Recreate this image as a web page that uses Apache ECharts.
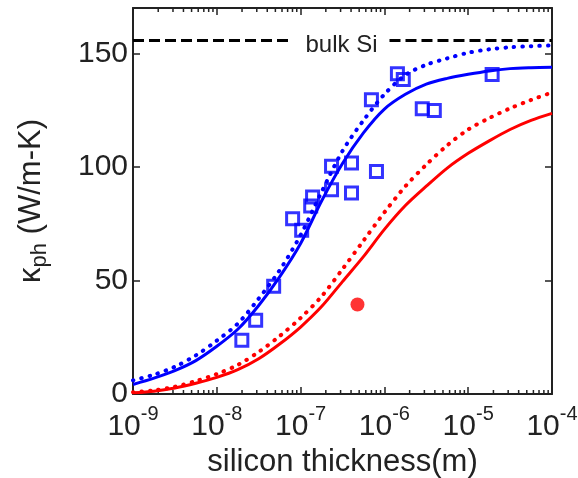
<!DOCTYPE html>
<html><head><meta charset="utf-8">
<script src="https://cdn.jsdelivr.net/npm/echarts@6/dist/echarts.min.js"></script>
<style>html,body{margin:0;padding:0;background:#fff}#c{width:578px;height:478px}</style>
</head><body><div id="c"></div>
<script>
// ---- data (thickness in metres, kappa in W/m-K) ----
const thickness  = [1e-9, 1.78e-9, 3.16e-9, 5.62e-9, 1e-8, 1.78e-8, 3.16e-8, 5.62e-8, 1e-7, 1.78e-7, 3.16e-7,
                    5.62e-7, 1e-6, 1.78e-6, 3.16e-6, 5.62e-6, 1e-5, 1.78e-5, 3.16e-5, 5.62e-5, 1e-4];
const blueSolid  = [4.2, 7.0, 10.3, 14.7, 21, 28.5, 39, 51.6, 66.3, 85, 101.5,
                    115, 125.5, 132, 136.5, 139, 140.8, 142.3, 143.3, 143.7, 143.9];
const blueDotted = [6, 8.5, 12, 17, 23.5, 31, 42, 54.5, 70, 89, 107,
                    120.5, 132, 140.5, 145, 147.8, 150.3, 151.8, 152.7, 153.2, 153.5];
const redSolid   = [0.5, 1.2, 2.6, 4.7, 7.3, 10.7, 15.5, 22, 29.5, 38.5, 49.5,
                    60.5, 72.5, 83, 91.5, 99.5, 106, 111.5, 116.5, 120.5, 123.6];
const redDotted  = [0.8, 1.6, 3.2, 5.7, 8.8, 12.8, 18.5, 25.5, 33.5, 43, 55,
                    67.5, 80, 91.5, 101, 109.5, 116.5, 121.5, 125.8, 129.5, 132.8];
const measX = [1.99e-8, 2.91e-8, 4.77e-8, 8.03e-8, 1.03e-7, 1.39e-7, 1.32e-7, 2.34e-7, 2.34e-7, 4.05e-7, 4.05e-7, 8.04e-7, 7.0e-7, 1.43e-6, 1.68e-6, 2.83e-6, 3.94e-6, 1.93e-5];
const measY = [23.7, 32.5, 47.5, 77.2, 72.1, 86.8, 82.8, 90, 100.3, 101.7, 88.5, 98, 129.6, 141, 138.5, 125.6, 124.9, 140.7];
const redPointX = [4.77e-7];
const redPointY = [39.4];
const bulkSiValue = 155.7;
const bulkSiGapStart = 8.0e-8, bulkSiGapEnd = 1.15e-6;
const bulkSiLabelX = 3.08e-7;
const bulkSiText = 'bulk Si';
const xMin = 1e-9, xMax = 1e-4;
const yMin = 0, yMax = 170, yStep = 50;

const FONT = '"Liberation Sans", Arial, Helvetica, sans-serif';
const INK = '#222';
const BLUE = '#0000ff', RED = '#ff0000';

const minorTicks = [];
for (let d = -9; d < -4; d++) for (let k = 2; k <= 9; k++) minorTicks.push([k * Math.pow(10, d), 0]);

const zip = (xs, ys) => xs.map((x, i) => [x, ys[i]]);

const chart = echarts.init(document.getElementById('c'), null, {renderer: 'canvas'});

const xLabelFmt = v => {
  const e = Math.round(Math.log10(v));
  return '{b|10}{s|' + e + '}';
};

const axisLineStyle = {show: true, onZero: false, lineStyle: {color: INK, width: 2}};
const tickStyle = {show: true, inside: true, length: 7, lineStyle: {color: INK, width: 1.5}};
const dotted = color => ({color: color, width: 4, type: [0.5, 8], cap: 'round'});
const curve = {type: 'line', smooth: 0.3, showSymbol: false, silent: true, z: 4};

chart.setOption({
  animation: false,
  backgroundColor: '#fff',
  grid: {left: 133, right: 26, top: 8, bottom: 84, containLabel: false, outerBoundsMode: 'none'},
  xAxis: [{
    type: 'log', logBase: 10, min: xMin, max: xMax, position: 'bottom',
    axisLine: axisLineStyle, axisTick: tickStyle, splitLine: {show: false}, minorTick: {show: false},
    axisLabel: {
      formatter: xLabelFmt, margin: 10, color: INK, fontFamily: FONT,
      rich: {
        b: {fontSize: 30, lineHeight: 46, color: INK, fontFamily: FONT},
        s: {fontSize: 20, lineHeight: 20, verticalAlign: 'top', color: INK, fontFamily: FONT}
      }
    },
    name: 'silicon thickness(m)', nameLocation: 'middle', nameGap: 50,
    nameTextStyle: {fontSize: 31, color: INK, fontFamily: FONT}
  }, {
    type: 'log', logBase: 10, min: xMin, max: xMax, position: 'top',
    axisLine: axisLineStyle, axisTick: tickStyle, splitLine: {show: false},
    axisLabel: {show: false}
  }],
  yAxis: [{
    type: 'value', min: yMin, max: yMax, interval: yStep, position: 'left',
    axisLine: axisLineStyle, axisTick: tickStyle, splitLine: {show: false},
    axisLabel: {fontSize: 30, color: INK, fontFamily: FONT, margin: 5, showMaxLabel: false},
    name: '{k|κ}{sub|ph}{t| (W/m-K)}', nameLocation: 'middle', nameRotate: 90, nameGap: 82,
    nameTextStyle: {
      color: INK, fontFamily: FONT,
      rich: {
        k: {fontSize: 31, lineHeight: 40, color: INK, fontFamily: FONT},
        sub: {fontSize: 22, lineHeight: 22, verticalAlign: 'bottom', color: INK, fontFamily: FONT},
        t: {fontSize: 31, lineHeight: 40, color: INK, fontFamily: FONT}
      }
    }
  }, {
    type: 'value', min: yMin, max: yMax, interval: yStep, position: 'right',
    axisLine: axisLineStyle, axisTick: tickStyle, splitLine: {show: false},
    axisLabel: {show: false}
  }],
  series: [
    {
      type: 'custom', xAxisIndex: 0, yAxisIndex: 0, data: minorTicks, silent: true, clip: false, z: 1,
      renderItem(params, api) {
        const x = api.value(0);
        const b = api.coord([x, yMin]);
        const t = api.coord([x, yMax]);
        return {type: 'group', children: [
          {type: 'line', shape: {x1: b[0], y1: b[1], x2: b[0], y2: b[1] - 4}, style: {stroke: INK, lineWidth: 1.5}},
          {type: 'line', shape: {x1: t[0], y1: t[1], x2: t[0], y2: t[1] + 4}, style: {stroke: INK, lineWidth: 1.5}}
        ]};
      }
    },
    {type: 'line', data: [[xMin, bulkSiValue], [bulkSiGapStart, bulkSiValue]], showSymbol: false, silent: true, z: 2,
     lineStyle: {color: '#000', width: 3, type: [11, 5]}},
    {type: 'line', data: [[bulkSiGapEnd, bulkSiValue], [xMax, bulkSiValue]], showSymbol: false, silent: true, z: 2,
     lineStyle: {color: '#000', width: 3, type: [11, 5]}},
    {type: 'scatter', data: [[bulkSiLabelX, bulkSiValue]], symbolSize: 1, silent: true, z: 3,
     itemStyle: {color: '#fff', opacity: 1},
     label: {show: true, position: 'inside', formatter: bulkSiText, fontSize: 24, color: '#222', fontFamily: FONT,
             opacity: 1, textBorderWidth: 0, offset: [0, 5]}},
    Object.assign({}, curve, {data: zip(thickness, redDotted), lineStyle: dotted(RED)}),
    Object.assign({}, curve, {data: zip(thickness, redSolid), lineStyle: {color: RED, width: 3}}),
    Object.assign({}, curve, {data: zip(thickness, blueDotted), lineStyle: dotted(BLUE)}),
    Object.assign({}, curve, {data: zip(thickness, blueSolid), lineStyle: {color: BLUE, width: 3}}),
    {type: 'scatter', data: zip(measX, measY), symbol: 'rect', symbolSize: 12, silent: true, z: 5,
     itemStyle: {color: 'rgba(0,0,0,0)', borderColor: BLUE, borderWidth: 3}},
    {type: 'scatter', data: zip(redPointX, redPointY), symbol: 'circle', symbolSize: 14, silent: true, z: 5,
     itemStyle: {color: RED}}
  ]
});
</script>
</body></html>
